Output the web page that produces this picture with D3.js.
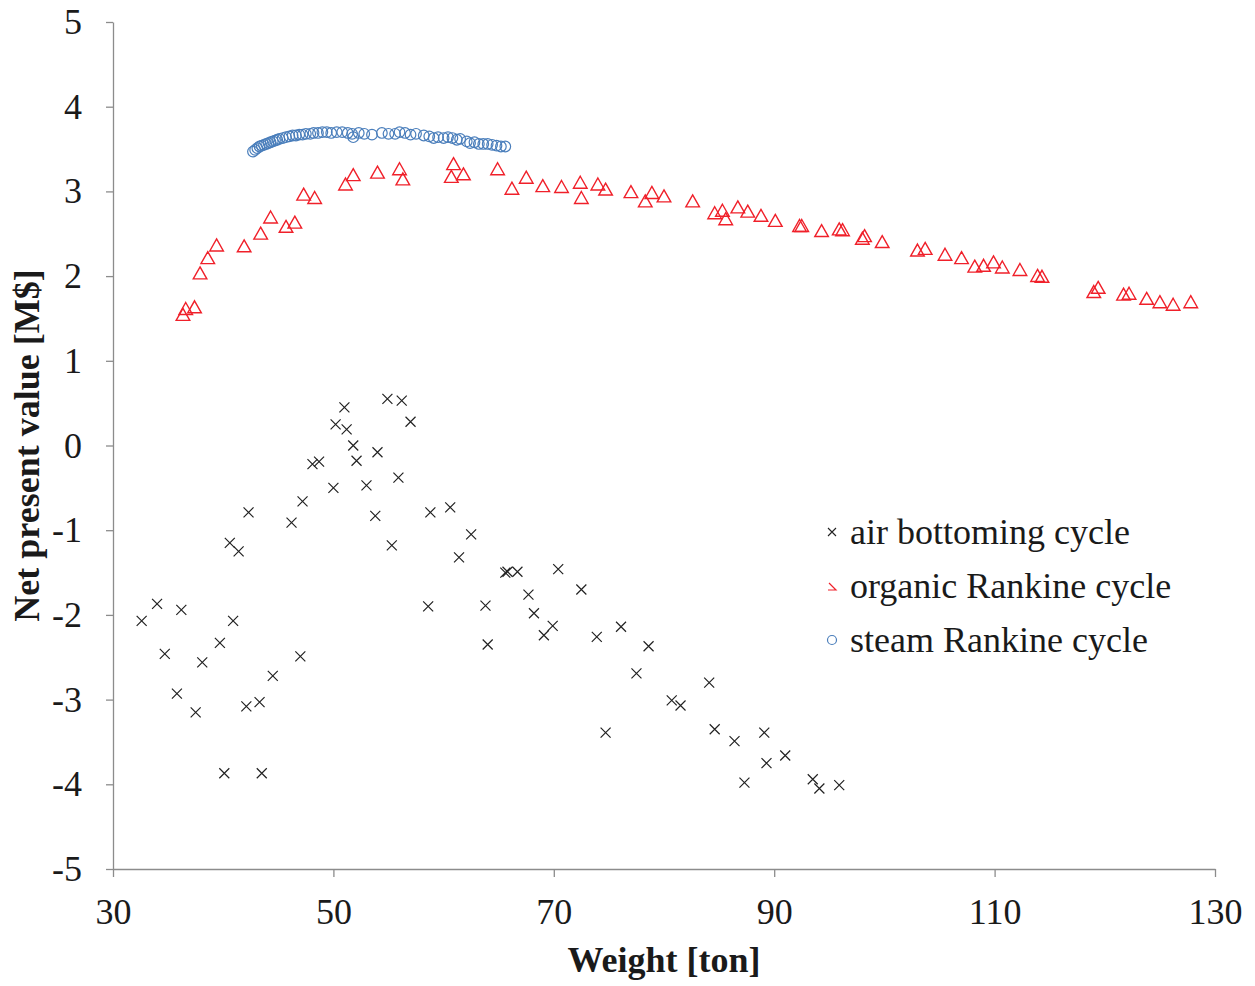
<!DOCTYPE html>
<html>
<head>
<meta charset="utf-8">
<script src="https://cdn.jsdelivr.net/npm/d3@7"></script>
<style>
  body { margin: 0; background: #fff; }
  text { font-family: "Liberation Serif", "Times New Roman", serif; fill: #1a1a1a; }
</style>
</head>
<body>
<svg id="chart" width="1255" height="986"></svg>
<script>

// air bottoming cycle [weight ton, NPV M$]
const airWeight = [32.6, 34.0, 34.7, 35.8, 36.2, 37.5, 38.1, 39.7, 40.1, 40.6, 40.9, 41.4, 42.1, 42.3, 43.3, 43.5, 44.5,
  46.2, 47.0, 47.2, 48.1, 48.7, 50.0, 50.2, 51.0, 51.2, 51.8, 52.1, 53.0, 53.8, 54.0, 54.9, 55.3, 55.9, 56.2, 57.0,
  58.6, 58.8, 60.6, 61.4, 62.5, 63.8, 64.0, 65.6, 65.8, 66.7, 67.7, 68.2, 69.1, 69.9, 70.4, 72.5, 73.9, 74.7, 76.1,
  77.5, 78.6, 80.7, 81.5, 84.1, 84.6, 86.4, 87.3, 89.1, 89.3, 91.0, 93.5, 94.1, 95.9];
const airNpv = [-2.07, -1.87, -2.46, -2.93, -1.94, -3.15, -2.56, -2.33, -3.87, -1.15, -2.07, -1.25, -3.08, -0.79, -3.03, -3.87, -2.72,
  -0.91, -2.49, -0.66, -0.22, -0.19, -0.50, 0.25, 0.45, 0.19, 0.00, -0.18, -0.47, -0.83, -0.08, 0.55, -1.18, -0.38, 0.53, 0.28,
  -1.90, -0.79, -0.73, -1.32, -1.05, -1.89, -2.35, -1.50, -1.49, -1.49, -1.76, -1.98, -2.24, -2.13, -1.46, -1.70, -2.26, -3.39, -2.14,
  -2.69, -2.37, -3.01, -3.07, -2.80, -3.35, -3.49, -3.98, -3.39, -3.75, -3.66, -3.94, -4.05, -4.01];

// organic Rankine cycle
const orcWeight = [36.35, 36.6, 37.4, 37.9, 38.6, 39.4, 41.9, 43.4, 44.3, 45.7, 46.5, 47.3, 48.3, 51.1, 51.8, 54.0,
  56.0, 56.3, 60.9, 60.7, 61.8, 64.9, 66.2, 67.5, 69.0, 70.7, 72.4, 72.5, 74.0, 74.7, 77.0, 78.3, 78.9, 80.0, 82.6,
  84.6, 85.3, 85.6, 86.7, 87.6, 88.8, 90.1, 92.3, 92.5, 94.3, 95.9, 96.2, 98.0, 98.2, 99.8, 103.0, 103.7, 105.5,
  107.0, 108.2, 109.0, 109.9, 110.7, 112.3, 113.9, 114.3, 119.0, 119.4, 121.7, 122.2, 123.8, 125.0, 126.2, 127.8];
const orcNpv = [1.53, 1.60, 1.62, 2.02, 2.20, 2.35, 2.34, 2.49, 2.68, 2.57, 2.62, 2.95, 2.91, 3.07, 3.18, 3.21,
  3.25, 3.13, 3.31, 3.16, 3.19, 3.25, 3.02, 3.15, 3.05, 3.04, 3.09, 2.91, 3.07, 3.01, 2.98, 2.87, 2.97, 2.93, 2.87,
  2.73, 2.76, 2.66, 2.80, 2.75, 2.70, 2.64, 2.58, 2.58, 2.52, 2.54, 2.53, 2.43, 2.46, 2.39, 2.29, 2.31, 2.24,
  2.20, 2.10, 2.11, 2.15, 2.09, 2.06, 1.99, 1.98, 1.80, 1.85, 1.77, 1.78, 1.72, 1.68, 1.65, 1.68];

// steam Rankine cycle
const steamWeight = [42.7, 42.9, 43.1, 43.3, 43.5, 43.7, 43.9, 44.1, 44.3, 44.5, 44.7, 44.9, 45.1, 45.4, 45.7, 46.0,
  46.3, 46.6, 46.9, 47.2, 47.5, 47.9, 48.2, 48.6, 49.0, 49.4, 49.8, 50.3, 50.8, 51.3, 51.7, 51.8, 52.3, 52.8, 53.5,
  54.4, 55.0, 55.6, 56.0, 56.5, 57.0, 57.5, 58.2, 58.7, 59.1, 59.5, 60.0, 60.4, 60.8, 61.2, 61.5, 62.1, 62.4, 62.8,
  63.2, 63.6, 64.0, 64.4, 64.8, 65.2, 65.6];
const steamNpv = [3.47, 3.49, 3.51, 3.53, 3.54, 3.55, 3.56, 3.57, 3.58, 3.59, 3.60, 3.61, 3.62, 3.63, 3.64, 3.65,
  3.66, 3.66, 3.67, 3.67, 3.68, 3.68, 3.69, 3.69, 3.70, 3.70, 3.69, 3.70, 3.70, 3.69, 3.68, 3.64, 3.69, 3.68, 3.67,
  3.69, 3.68, 3.68, 3.70, 3.69, 3.67, 3.68, 3.66, 3.65, 3.63, 3.64, 3.63, 3.64, 3.63, 3.61, 3.62, 3.59, 3.57, 3.58,
  3.56, 3.56, 3.56, 3.55, 3.54, 3.53, 3.53];

const xTicks = [30, 50, 70, 90, 110, 130];
const yTicks = [5, 4, 3, 2, 1, 0, -1, -2, -3, -4, -5];
const legendLabels = ["air bottoming cycle", "organic Rankine cycle", "steam Rankine cycle"];

function scatterChart(selector) {

  let svg = d3.select(selector),
      left = 113, right = 1215, top = 22, bottom = 869,
      axisColor = "#8c8c8c";

  let x = d3.scaleLinear().domain([30, 130]).range([left, right]);
  let y = d3.scaleLinear().domain([-5, 5]).range([bottom, top]);

  // plain hyphen for negatives, like the original
  let fmt = d => String(d);

  let xAxis = svg.append("g")
    .attr("transform", "translate(0," + bottom + ")")
    .call(d3.axisBottom(x).tickValues(xTicks).tickFormat(fmt).tickSize(8).tickSizeOuter(0).tickPadding(21));

  let yAxis = svg.append("g")
    .attr("transform", "translate(" + left + ",0)")
    .call(d3.axisLeft(y).tickValues(yTicks).tickFormat(fmt).tickSize(7).tickSizeOuter(0).tickPadding(24));

  [xAxis, yAxis].forEach(function(a) {
    a.select(".domain").attr("stroke", axisColor).attr("stroke-width", 1.3);
    a.selectAll(".tick line").attr("stroke", axisColor).attr("stroke-width", 1.3);
    a.selectAll(".tick text")
      .style("font-family", "'Liberation Serif', serif")
      .style("font-size", "36px")
      .attr("fill", "#1a1a1a");
  });

  let crossPath = "M-5,-5L5,5M-5,5L5,-5",
      triPath = "M0,-7.5L6.8,4.5L-6.8,4.5Z";

  // air bottoming
  svg.append("g").selectAll("path")
    .data(d3.zip(airWeight, airNpv))
    .join("path")
    .attr("transform", d => "translate(" + x(d[0]) + "," + y(d[1]) + ")")
    .attr("d", crossPath)
    .attr("fill", "none")
    .attr("stroke", "#222")
    .attr("stroke-width", 1.2);

  // organic Rankine
  svg.append("g").selectAll("path")
    .data(d3.zip(orcWeight, orcNpv))
    .join("path")
    .attr("transform", d => "translate(" + x(d[0]) + "," + y(d[1]) + ")")
    .attr("d", triPath)
    .attr("fill", "none")
    .attr("stroke", "#f0202a")
    .attr("stroke-width", 1.4);

  // steam Rankine
  svg.append("g").selectAll("circle")
    .data(d3.zip(steamWeight, steamNpv))
    .join("circle")
    .attr("cx", d => x(d[0]))
    .attr("cy", d => y(d[1]))
    .attr("r", 5.3)
    .attr("fill", "none")
    .attr("stroke", "#4a7ebb")
    .attr("stroke-width", 1.2);

  // axis titles
  svg.append("text")
    .attr("x", (left + right) / 2)
    .attr("y", 972)
    .attr("text-anchor", "middle")
    .style("font-size", "36px")
    .style("font-weight", "bold")
    .text("Weight [ton]");

  svg.append("text")
    .attr("transform", "translate(39," + (top + bottom) / 2 + ") rotate(-90)")
    .attr("text-anchor", "middle")
    .style("font-size", "36px")
    .style("font-weight", "bold")
    .text("Net present value [M$]");

  // legend
  let legend = svg.append("g").attr("transform", "translate(832,532)");
  let rows = legend.selectAll("g")
    .data(legendLabels)
    .join("g")
    .attr("transform", (d, i) => "translate(0," + i * 54 + ")");

  rows.append("text")
    .attr("x", 18)
    .attr("y", 12)
    .style("font-size", "36px")
    .text(d => d);

  rows.filter((d, i) => i == 0).append("path")
    .attr("d", "M-4,-4L4,4M-4,4L4,-4")
    .attr("stroke", "#222").attr("stroke-width", 1.1);
  rows.filter((d, i) => i == 1).append("path")
    .attr("d", "M-3,-3L4,4L-4,4")
    .attr("fill", "none")
    .attr("stroke", "#f0202a").attr("stroke-width", 1.2);
  rows.filter((d, i) => i == 2).append("circle")
    .attr("r", 4.5)
    .attr("fill", "none")
    .attr("stroke", "#4a7ebb").attr("stroke-width", 1.2);

  return svg
}

scatterChart("#chart");
</script>
</body>
</html>
